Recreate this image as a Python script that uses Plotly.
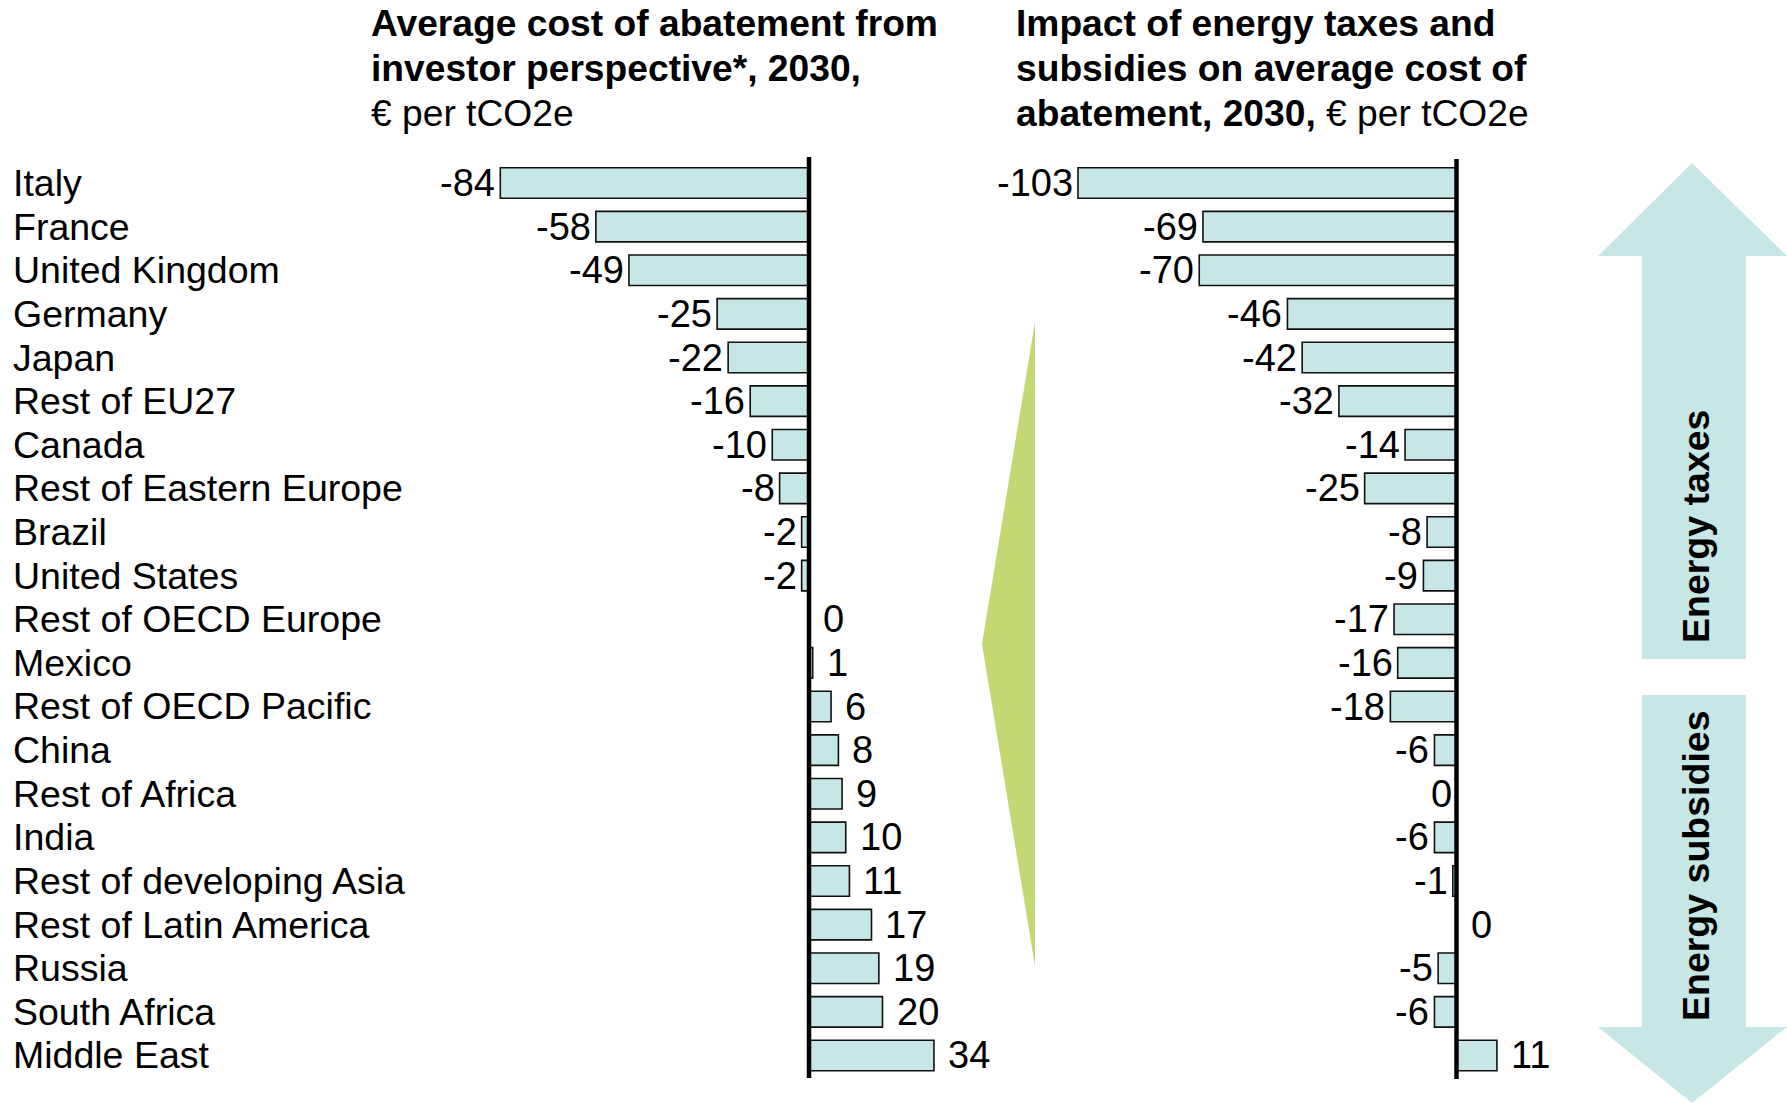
import math
import plotly.graph_objects as go

W, H = 1787, 1103

regions = [
    "Italy", "France", "United Kingdom", "Germany", "Japan", "Rest of EU27",
    "Canada", "Rest of Eastern Europe", "Brazil", "United States",
    "Rest of OECD Europe", "Mexico", "Rest of OECD Pacific", "China",
    "Rest of Africa", "India", "Rest of developing Asia",
    "Rest of Latin America", "Russia", "South Africa", "Middle East",
]
# Average cost of abatement from investor perspective, 2030 (EUR per tCO2e)
investor_cost = [-84, -58, -49, -25, -22, -16, -10, -8, -2, -2,
                 0, 1, 6, 8, 9, 10, 11, 17, 19, 20, 34]
# Impact of energy taxes and subsidies on average cost (EUR per tCO2e);
# -0.0 marks a value that rounds to zero from below
tax_subsidy_impact = [-103, -69, -70, -46, -42, -32, -14, -25, -8, -9,
                      -17, -16, -18, -6, -0.0, -6, -1, 0, -5, -6, 11]

left_title = ["<b>Average cost of abatement from</b>",
              "<b>investor perspective*, 2030,</b>",
              "€ per tCO2e"]
right_title = ["<b>Impact of energy taxes and</b>",
               "<b>subsidies on average cost of</b>",
               "<b>abatement, 2030,</b> € per tCO2e"]
arrow_labels = ["Energy taxes", "Energy subsidies"]

FONT = "Liberation Sans, Arial, sans-serif"
FS_LABEL = 37.5
FS_VALUE = 38
FS_TITLE = 37.2
BAR_FILL = "#C7E6E6"
ARROW_FILL = "#C7E6E6"
GREEN = "#C3D872"


def px(x):
    return x / W


def py(y):
    return 1 - y / H


# pixel geometry of the two panels
UNIT = 3.675                      # pixels per EUR
ZERO_L, ZERO_R = 809.0, 1456.5    # x of the zero axis in each panel
ROW_TOP, ROW_BOT = 161.2, 1077.3  # top/bottom of the category band
L_RANGE = [-90, 40]
R_RANGE = [-110, 20]

fig = go.Figure()
fig.add_trace(go.Bar(
    x=investor_cost, y=regions, orientation="h", xaxis="x", yaxis="y",
    marker=dict(color=BAR_FILL, line=dict(color="#111", width=1.6)),
    width=0.7, hoverinfo="skip", showlegend=False,
))
fig.add_trace(go.Bar(
    x=tax_subsidy_impact, y=regions, orientation="h", xaxis="x2", yaxis="y2",
    marker=dict(color=BAR_FILL, line=dict(color="#111", width=1.6)),
    width=0.7, hoverinfo="skip", showlegend=False,
))

annotations = []


def value_labels(values, xref, yref):
    for reg, v in zip(regions, values):
        neg = math.copysign(1, v) < 0
        txt = f"{abs(v):g}" if v == 0 else f"{v:g}"
        annotations.append(dict(
            x=v, y=reg, xref=xref, yref=yref, text=txt, showarrow=False,
            xanchor="right" if neg else "left", yanchor="middle",
            xshift=-3 if neg else 12,
            font=dict(family=FONT, size=FS_VALUE, color="#000"),
        ))


value_labels(investor_cost, "x", "y")
value_labels(tax_subsidy_impact, "x2", "y2")

# region names, left aligned
row_h = (ROW_BOT - ROW_TOP) / len(regions)
for i, reg in enumerate(regions):
    annotations.append(dict(
        x=px(11), y=py(ROW_TOP + row_h * (i + 0.5)), xref="paper", yref="paper",
        text=reg, showarrow=False, xanchor="left", yanchor="middle",
        font=dict(family=FONT, size=FS_LABEL, color="#000"),
    ))

# panel titles
for lines, x0 in ((left_title, 369), (right_title, 1014)):
    for k, line in enumerate(lines):
        annotations.append(dict(
            x=px(x0), y=py(23 + 45 * k), xref="paper", yref="paper",
            text=line, showarrow=False, xanchor="left", yanchor="middle",
            font=dict(family=FONT, size=FS_TITLE, color="#000"),
        ))

# arrow captions
for label, yc in zip(arrow_labels, (527, 866)):
    annotations.append(dict(
        x=px(1696), y=py(yc), xref="paper", yref="paper", text=f"<b>{label}</b>",
        showarrow=False, textangle=-90, xanchor="center", yanchor="middle",
        font=dict(family=FONT, size=37.5, color="#000"),
    ))


def path(points):
    return "M " + " L ".join(f"{px(x):.5f},{py(y):.5f}" for x, y in points) + " Z"


shapes = [
    # green wedge between the panels
    dict(type="path", xref="paper", yref="paper", layer="below",
         path=path([(1035, 322), (982, 644), (1035, 966)]),
         fillcolor=GREEN, line=dict(width=0)),
    # up arrow: energy taxes
    dict(type="path", xref="paper", yref="paper", layer="below",
         path=path([(1642, 659), (1642, 256), (1598, 256), (1692, 163),
                    (1787, 256), (1746, 256), (1746, 659)]),
         fillcolor=ARROW_FILL, line=dict(width=0)),
    # down arrow: energy subsidies
    dict(type="path", xref="paper", yref="paper", layer="below",
         path=path([(1642, 695), (1746, 695), (1746, 1027), (1787, 1027),
                    (1692, 1103), (1598, 1027), (1642, 1027)]),
         fillcolor=ARROW_FILL, line=dict(width=0)),
    # zero axes
    dict(type="line", xref="x", yref="paper", x0=0, x1=0,
         y0=py(1078), y1=py(157), line=dict(color="#000", width=4.5),
         layer="above"),
    dict(type="line", xref="x2", yref="paper", x0=0, x1=0,
         y0=py(1079), y1=py(159), line=dict(color="#000", width=4.5),
         layer="above"),
]

l_dom = [px(ZERO_L + L_RANGE[0] * UNIT), px(ZERO_L + L_RANGE[1] * UNIT)]
r_dom = [px(ZERO_R + R_RANGE[0] * UNIT), px(ZERO_R + R_RANGE[1] * UNIT)]
y_dom = [py(ROW_BOT), py(ROW_TOP)]
n = len(regions)

fig.update_layout(
    width=W, height=H, margin=dict(l=0, r=0, t=0, b=0),
    paper_bgcolor="white", plot_bgcolor="rgba(0,0,0,0)",
    showlegend=False, barmode="overlay",
    xaxis=dict(domain=l_dom, range=L_RANGE, visible=False, fixedrange=True),
    xaxis2=dict(domain=r_dom, range=R_RANGE, visible=False, fixedrange=True),
    yaxis=dict(domain=y_dom, type="category", categoryorder="array",
               categoryarray=regions, range=[n - 0.5, -0.5], visible=False,
               anchor="x"),
    yaxis2=dict(domain=y_dom, type="category", categoryorder="array",
                categoryarray=regions, range=[n - 0.5, -0.5], visible=False,
                anchor="x2", matches="y"),
    annotations=annotations, shapes=shapes,
    font=dict(family=FONT, size=FS_LABEL, color="#000"),
)

fig.write_html("out.html")
